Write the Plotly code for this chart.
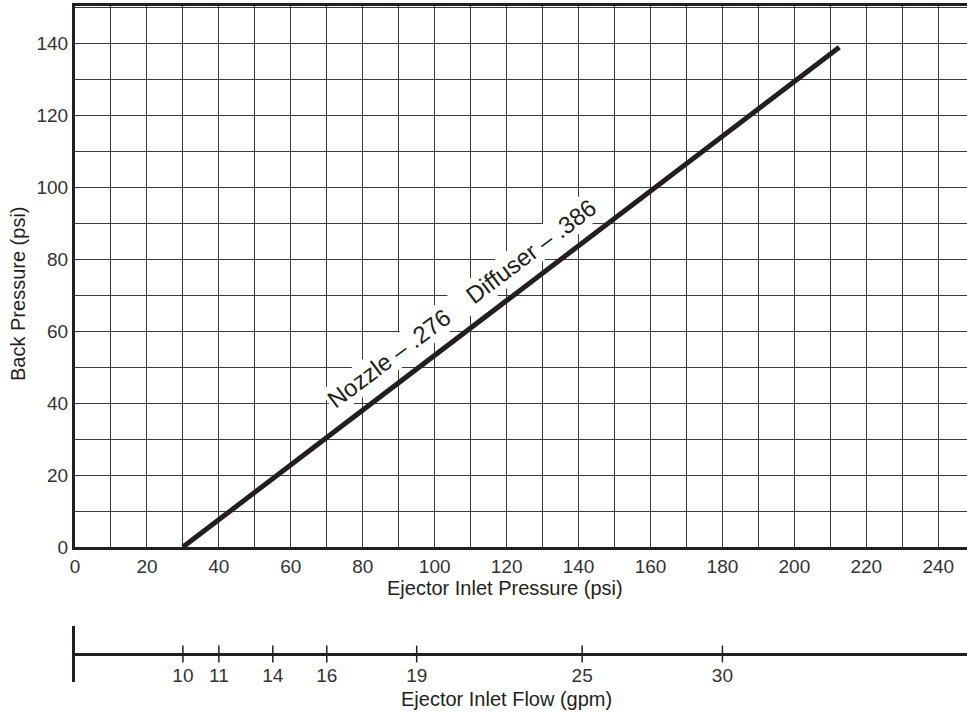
import plotly.graph_objects as go

# main chart: back pressure vs inlet pressure
pressure = [30, 212.5]
back_pressure = [0, 139]

# secondary scale: inlet flow (gpm) placed at the matching inlet pressure
flow_at_pressure = [30, 40, 55, 70, 95, 141, 180]
flow_labels = ["10", "11", "14", "16", "19", "25", "30"]

label_text = "Nozzle – .276\u00a0\u00a0\u00a0\u00a0Diffuser – .386"
label_x = 107.5
label_y = 67.8

W, H = 967, 714
mt, mb = 6, 20
ink = "#231f20"
font = "Liberation Sans"


def py(p):
    # pixel row -> paper y
    return (H - mb - p) / (H - mt - mb)


fig = go.Figure()

fig.add_trace(go.Scatter(x=pressure, y=back_pressure, mode="lines",
                         line=dict(color=ink, width=5), showlegend=False,
                         hoverinfo="skip"))

fig.add_trace(go.Scatter(x=flow_at_pressure, y=[0] * len(flow_at_pressure),
                         xaxis="x2", yaxis="y2", mode="markers",
                         marker=dict(symbol="line-ns", size=12,
                                     line=dict(color=ink, width=1.5)),
                         showlegend=False, hoverinfo="skip"))

fig.add_annotation(x=label_x, y=label_y, text=label_text, showarrow=False,
                   textangle=-37, bgcolor="white", borderpad=1,
                   font=dict(family=font, size=24, color=ink))

titles = dict(xref="paper", yref="paper", showarrow=False,
              xanchor="center", yanchor="middle",
              font=dict(family=font, size=20, color=ink))
fig.add_annotation(x=(505 - 75) / 892, y=py(588),
                   text="Ejector Inlet Pressure (psi)", **titles)
fig.add_annotation(x=(506 - 75) / 892, y=py(699),
                   text="Ejector Inlet Flow (gpm)", **titles)
fig.add_annotation(x=(18 - 75) / 892, y=py(294), textangle=-90,
                   text="Back Pressure (psi)", **titles)

grid = dict(showgrid=True, gridcolor="#3a3a3a", gridwidth=1.3)

fig.update_layout(
    width=W, height=H,
    margin=dict(l=75, r=0, t=mt, b=mb),
    paper_bgcolor="white", plot_bgcolor="white",
    font=dict(family=font, size=19, color="#333"),
    xaxis=dict(range=[0, 248], dtick=20, tick0=0, ticks="",
               showline=True, linecolor=ink, linewidth=3, mirror=True,
               zeroline=False, ticklabelstandoff=0,
               minor=dict(dtick=10, **grid), **grid),
    yaxis=dict(range=[0, 150.5], dtick=20, tick0=0, ticks="",
               domain=[py(547), 1],
               showline=True, linecolor=ink, linewidth=3, mirror=False,
               zeroline=False, ticklabelstandoff=0,
               minor=dict(dtick=10, **grid), **grid),
    xaxis2=dict(range=[0, 248], anchor="free", position=py(654),
                tickvals=flow_at_pressure, ticktext=flow_labels, ticks="",
                showline=True, linecolor=ink, linewidth=3, showgrid=False,
                zeroline=False, ticklabelstandoff=3),
    yaxis2=dict(range=[-1, 1], domain=[py(682), py(626)], anchor="x2",
                showline=True, linecolor=ink, linewidth=3, showgrid=False,
                zeroline=False, showticklabels=False, ticks=""),
)

# page body has a default margin; drop it so the figure sits at the corner
fig.write_html("out.html", config={"displayModeBar": False},
               post_script="document.body.style.margin='0';")
